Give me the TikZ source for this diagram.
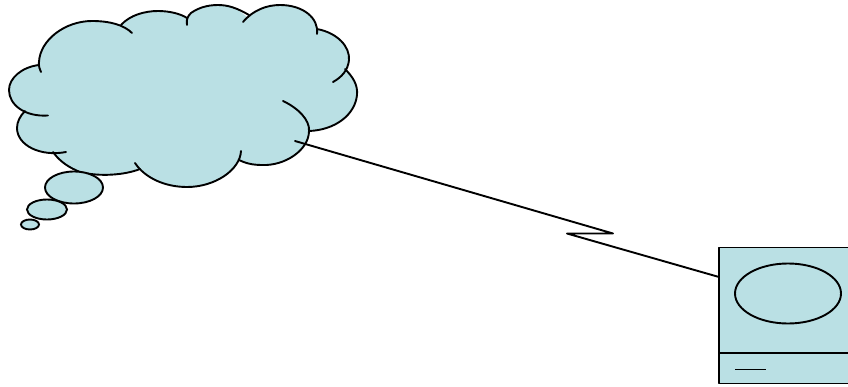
\documentclass[tikz,border=0pt]{standalone}
\definecolor{cloudblue}{HTML}{BAE0E4}
\tikzset{
  x=1pt,y=-1pt,
  ink/.style={draw=black,line width=1.9pt,line cap=round,line join=round},
  shapefill/.style={fill=cloudblue},
  bubble/.style={ellipse,draw=black,fill=cloudblue,line width=1.9pt,inner sep=0pt,outer sep=0pt},
}
\usetikzlibrary{shapes.geometric}
\begin{document}
\begin{tikzpicture}
\useasboundingbox (0,0) rectangle (848,386);
\clip (0,0) rectangle (848,386);
% cloud body
\fill[shapefill] (39,65) .. controls (40,40) and (65,21) .. (92,21)
  .. controls (102,21) and (113,22) .. (121,25)
  .. controls (130,15) and (145,11) .. (158,11)
  .. controls (170,11) and (181,14) .. (187,18)
  .. controls (195,9) and (206,5) .. (218,5)
  .. controls (228,5) and (237,8) .. (247,17)
  .. controls (255,9) and (268,5) .. (280,5)
  .. controls (303,5) and (318,18) .. (317,30)
  .. controls (338,33) and (350,47) .. (349,60)
  .. controls (349,63) and (348,66) .. (345,69)
  .. controls (353,77) and (358,85) .. (357,95)
  .. controls (355,115) and (335,130) .. (309,131)
  .. controls (309,150) and (285,166) .. (262,165)
  .. controls (252,165) and (245,163) .. (239,160)
  .. controls (232,176) and (212,187) .. (187,187)
  .. controls (165,187) and (148,179) .. (140,169)
  .. controls (125,175) and (100,177) .. (80,172)
  .. controls (70,168) and (60,162) .. (53,152)
  .. controls (33,155) and (17,143) .. (17,128)
  .. controls (17,122) and (20,116) .. (25,111)
  .. controls (15,106) and (9,98) .. (9,90)
  .. controls (9,78) and (22,67) .. (39,65) -- cycle;
% cloud outline lobes
\draw[ink] (41,72) .. controls (38,66) and (39,62) .. (39,62) .. controls (40,40) and (65,21) .. (92,21)
  .. controls (110,21) and (124,25) .. (132,33);
\draw[ink] (121,25) .. controls (130,15) and (145,11) .. (158,11)
  .. controls (170,11) and (181,14) .. (187,18);
\draw[ink] (187,25) .. controls (186,19) and (188,16) .. (191,13)
  .. controls (198,8) and (207,5) .. (218,5)
  .. controls (228,5) and (237,8) .. (249,15);
\draw[ink] (243,22) .. controls (253,10) and (267,5) .. (280,5)
  .. controls (303,5) and (319,18) .. (317,34);
\draw[ink] (317,29) .. controls (338,33) and (350,47) .. (349,60)
  .. controls (348,70) and (342,77) .. (333,82);
\draw[ink] (345,69) .. controls (353,77) and (358,85) .. (357,95)
  .. controls (355,115) and (335,130) .. (309,131);
\draw[ink] (283,101) .. controls (298,108) and (310,120) .. (309,131)
  .. controls (309,150) and (285,166) .. (262,165)
  .. controls (252,165) and (245,163) .. (239,160);
\draw[ink] (241,151) .. controls (240,170) and (215,187) .. (187,187)
  .. controls (165,187) and (145,178) .. (135,163);
\draw[ink] (140,169) .. controls (125,175) and (100,177) .. (80,172)
  .. controls (70,168) and (60,162) .. (53,152);
\draw[ink] (66,152) .. controls (40,157) and (17,145) .. (17,128)
  .. controls (17,122) and (20,116) .. (25,111);
\draw[ink] (48,115.5) .. controls (25,117) and (9,105) .. (9,90)
  .. controls (9,78) and (22,67) .. (39,65);
% thought bubbles
\node[bubble,minimum width=58pt,minimum height=32pt] (b1) at (74,187.5) {};
\node[bubble,minimum width=40pt,minimum height=20pt] (b2) at (47,209.5) {};
\node[bubble,minimum width=18pt,minimum height=10pt] (b3) at (30,224.5) {};
% computer
\fill[shapefill] (719,247.5) rectangle (860,383.5);
\draw[ink,line cap=butt] (860,247.5) -- (719,247.5) -- (719,383.5) -- (860,383.5);
\coordinate (dl) at (719,353);
\coordinate (dr) at (860,353);
\draw[ink,line cap=butt] (dl) -- (dr);
\node[bubble,minimum width=106pt,minimum height=60pt] (screen) at (788,293.5) {};
\coordinate (sl) at (735,369.5);
\coordinate (sr) at (766,369.5);
\draw[ink,line cap=butt] (sl) -- (sr);
% lightning connector
\coordinate (start) at (295,141);
\coordinate (z1) at (613,233.5);
\coordinate (z2) at (567,233.5);
\coordinate (end) at (719,277);
\draw[ink] (start) -- (z1) -- (z2) -- (end);
\end{tikzpicture}
\end{document}
